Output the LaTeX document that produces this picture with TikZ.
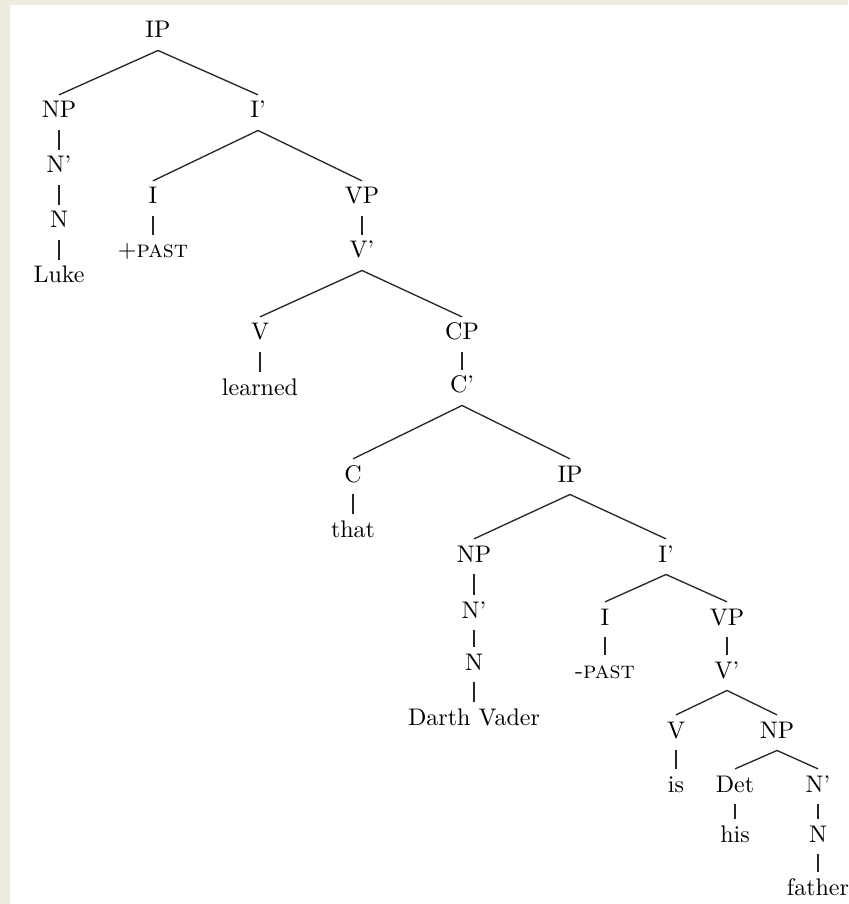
\documentclass[tikz,border=0pt]{standalone}
\definecolor{bgbeige}{RGB}{238,235,224}
\begin{document}
\begin{tikzpicture}[x=0.41667pt,y=-0.41667pt,
  lbl/.style={anchor=base, inner xsep=1pt, inner ysep=2.5pt, text height=6.94pt, text depth=2.5pt},
  edge/.style={line width=0.55pt, draw=black!85}]
\fill[bgbeige] (0,0) rectangle (848,904);
\fill[white] (10,5) rectangle (848,904);
\useasboundingbox (0,0) rectangle (848,904);
% nodes
\node[lbl] (ip1) at (158,38) {IP};
\node[lbl] (np1) at (59,118) {NP};
\node[lbl] (ib1) at (258,118) {I'};
\node[lbl] (nb1) at (59,173) {N'};
\node[lbl] (n1) at (59,228) {N};
\node[lbl] (luke) at (59,283) {Luke};
\node[lbl] (i1) at (153,204) {I};
\node[lbl] (vp1) at (362,204) {VP};
\node[lbl] (past1) at (153,258) {+\textsc{past}};
\node[lbl] (vb1) at (362,258) {V'};
\node[lbl] (v1) at (260,340) {V};
\node[lbl] (cp) at (462,340) {CP};
\node[lbl] (learned) at (260,395) {learned};
\node[lbl] (cb) at (462,393) {C'};
\node[lbl] (c) at (353,482) {C};
\node[lbl] (ip2) at (570,482) {IP};
\node[lbl] (that) at (353,537) {that};
\node[lbl] (np2) at (474,562) {NP};
\node[lbl] (ib2) at (666,562) {I'};
\node[lbl] (nb2) at (474,618) {N'};
\node[lbl] (n2) at (474,670) {N};
\node[lbl] (dv) at (474,725) {Darth Vader};
\node[lbl] (i2) at (605,625) {I};
\node[lbl] (vp2) at (727,625) {VP};
\node[lbl] (past2) at (605,678) {-\textsc{past}};
\node[lbl] (vb2) at (727,678) {V'};
\node[lbl] (v2) at (676,738) {V};
\node[lbl] (np3) at (777,738) {NP};
\node[lbl] (is) at (676,792) {is};
\node[lbl] (det) at (735,792) {Det};
\node[lbl] (nb3) at (818,792) {N'};
\node[lbl] (his) at (735,842) {his};
\node[lbl] (n3) at (818,842) {N};
\node[lbl] (father) at (818,895) {father};
% edges
\foreach \p/\c in {ip1/np1, ip1/ib1, np1/nb1, nb1/n1, n1/luke,
  ib1/i1, ib1/vp1, i1/past1, vp1/vb1, vb1/v1, vb1/cp, v1/learned, cp/cb,
  cb/c, cb/ip2, c/that, ip2/np2, ip2/ib2, np2/nb2, nb2/n2, n2/dv,
  ib2/i2, ib2/vp2, i2/past2, vp2/vb2, vb2/v2, vb2/np3, v2/is,
  np3/det, np3/nb3, det/his, nb3/n3, n3/father}
  \draw[edge] (\p.south) -- (\c.north);
\end{tikzpicture}
\end{document}
